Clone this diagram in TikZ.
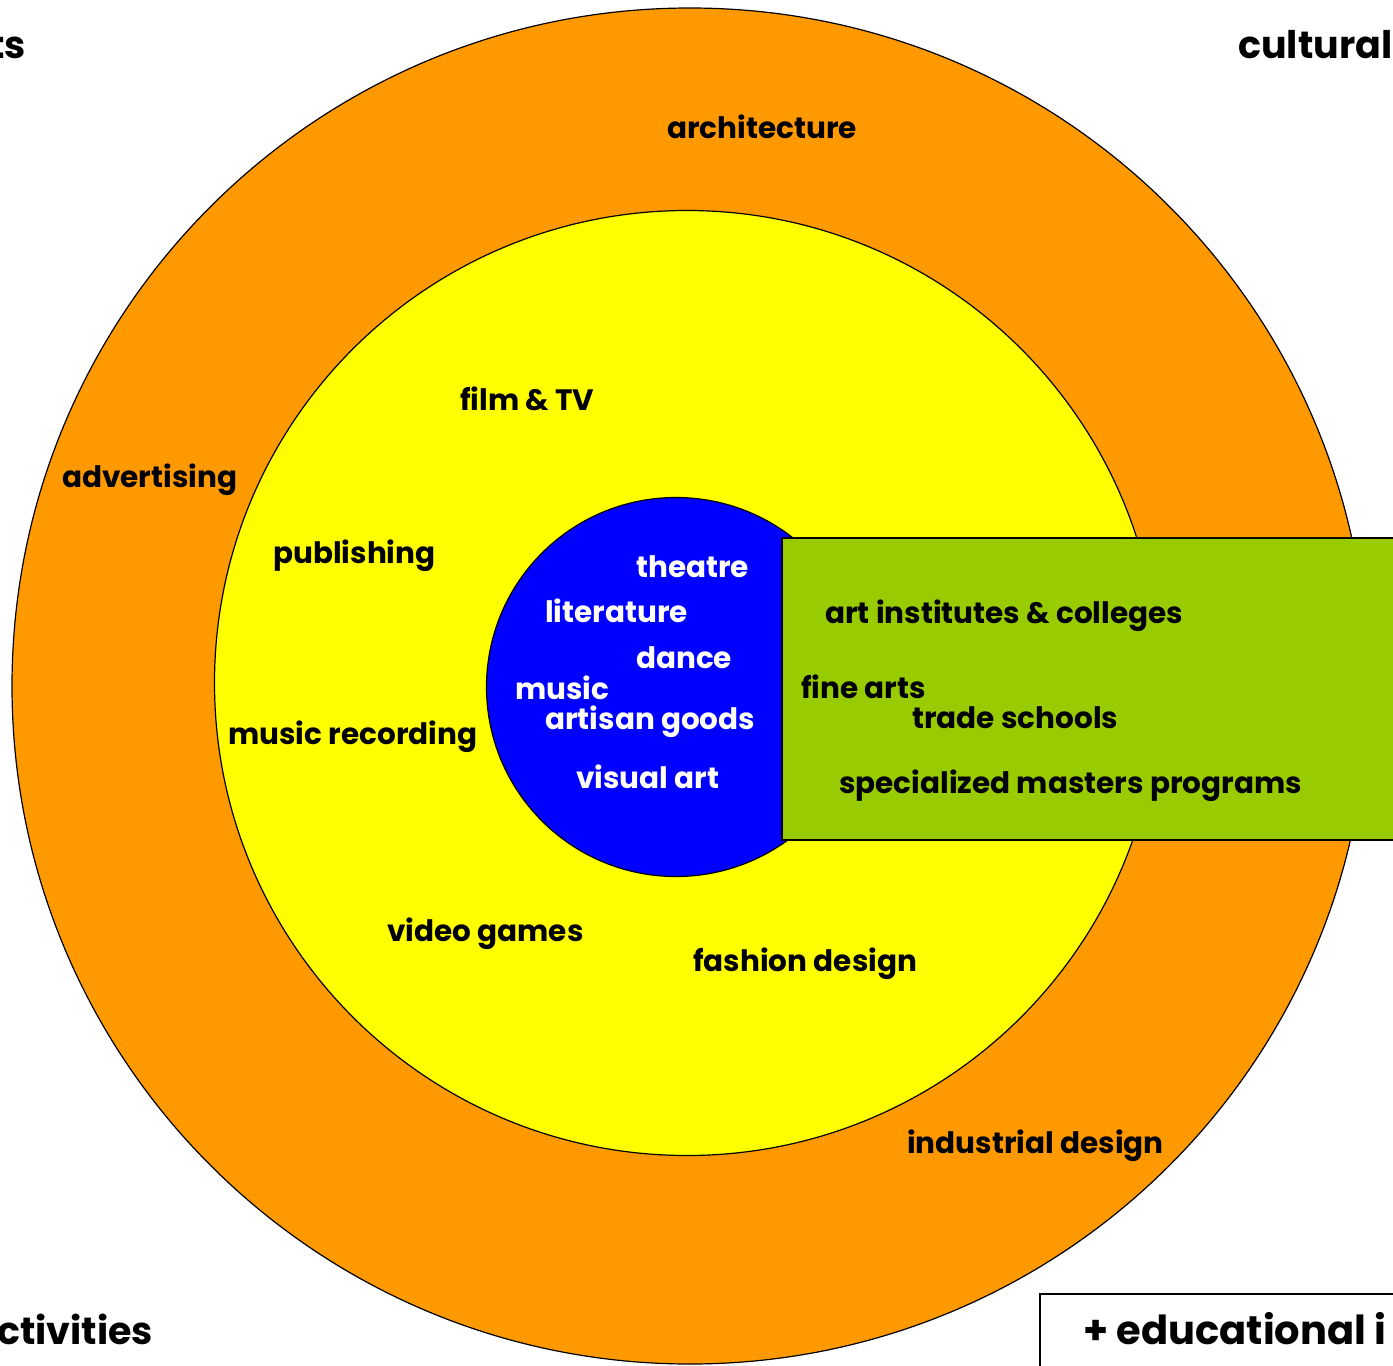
\documentclass[tikz,border=0pt]{standalone}
\usepackage{fontspec}
\setmainfont{Poppins}
\definecolor{ringorange}{HTML}{FF9900}
\definecolor{ringyellow}{HTML}{FFFF00}
\definecolor{coreblue}{HTML}{0000FF}
\definecolor{edugreen}{HTML}{99CC00}
\tikzset{
  ring/.style={circle,draw=black,line width=1.2pt,inner sep=0pt},
  lbl/.style={anchor=mid west,inner sep=0pt,font=\fontsize{29.5}{31}\selectfont\bfseries,text=black},
  wlbl/.style={lbl,text=white},
  big/.style={anchor=mid west,inner sep=0pt,font=\fontsize{38}{40}\selectfont\bfseries,text=black},
}
\begin{document}
\begin{tikzpicture}[x=1pt,y=-1pt]
\useasboundingbox (0,0) rectangle (1393,1366);
\clip (0,0) rectangle (1393,1366);
\fill[white] (0,0) rectangle (1393,1366);
\node[ring,fill=ringorange,minimum size=1356pt] (outer) at (690,686) {};
\node[ring,fill=ringyellow,minimum size=945pt] (middle) at (687,683) {};
\node[ring,fill=coreblue,minimum size=379pt] (core) at (676,687) {};
\draw[line width=1.2pt,fill=edugreen] (782,538) rectangle (1400,840);
\draw[line width=1.2pt,fill=white] (1040,1294) rectangle (1400,1372);
% corner texts
\node[big,anchor=mid east] (ts) at (26,56) {ts};
\node[big] (cult) at (1238,56) {cultural};
\node[big] (act) at (-3,1342) {ctivities};
\node[big,font=\fontsize{40}{42}\selectfont\bfseries] (edu) at (1083,1342) {+ educational i};
% outer ring
\node[lbl] (arch) at (667,136) {architecture};
\node[lbl] (adv) at (62,485) {advertising};
\node[lbl] (ind) at (907,1151) {industrial design};
% middle ring
\node[lbl] (film) at (460,408) {film \& TV};
\node[lbl] (pub) at (273,561) {publishing};
\node[lbl] (mrec) at (228,742) {music recording};
\node[lbl] (vg) at (387,939) {video games};
\node[lbl] (fash) at (693,969) {fashion design};
% core
\node[wlbl] (thea) at (636,575) {theatre};
\node[wlbl] (lit) at (545,620) {literature};
\node[wlbl] (dance) at (636,666) {dance};
\node[wlbl] (mus) at (515,697) {music};
\node[wlbl] (art) at (545,727) {artisan goods};
\node[wlbl] (vis) at (576,786) {visual art};
% education
\node[lbl] (inst) at (825,621) {art institutes \& colleges};
\node[lbl] (fine) at (801,696) {fine arts};
\node[lbl] (trade) at (912,726) {trade schools};
\node[lbl] (masters) at (839,791) {specialized masters programs};
\end{tikzpicture}
\end{document}
